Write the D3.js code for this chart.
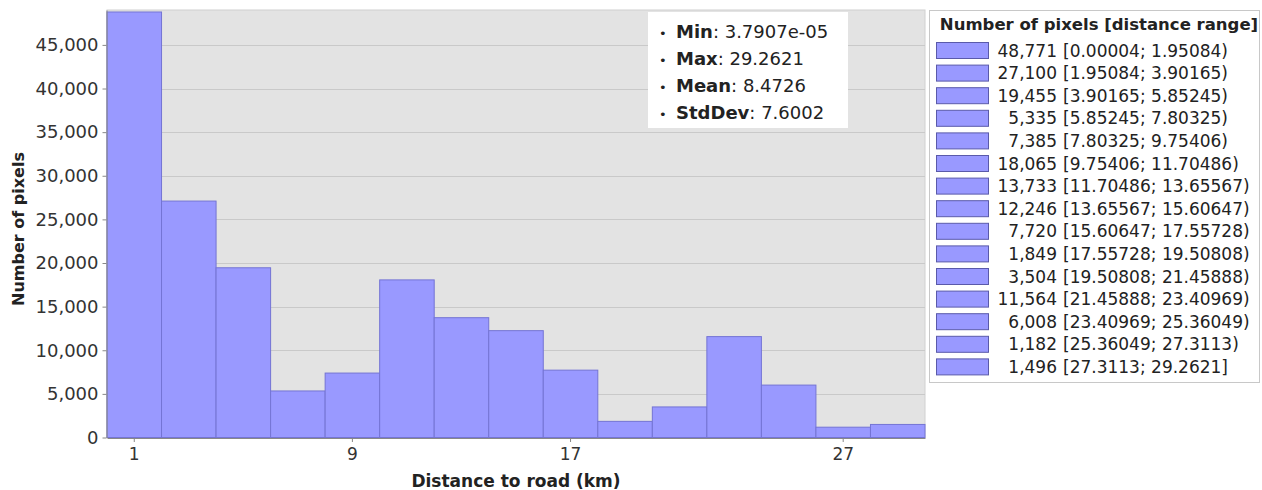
<!DOCTYPE html>
<html>
<head>
<meta charset="utf-8">
<script src="https://cdn.jsdelivr.net/npm/d3@7"></script>
<style>
  body { margin: 0; background: #fff; }
  text { font-family: "DejaVu Sans", Verdana, sans-serif; fill: #222; }
</style>
</head>
<body>
<svg id="chart"></svg>
<script>
// histogram data: bin edges (as printed in the legend) and pixel counts
var binEdges = ["0.00004", "1.95084", "3.90165", "5.85245", "7.80325", "9.75406", "11.70486",
    "13.65567", "15.60647", "17.55728", "19.50808", "21.45888", "23.40969", "25.36049",
    "27.3113", "29.2621"];
var counts = [48771, 27100, 19455, 5335, 7385, 18065, 13733, 12246, 7720, 1849, 3504,
    11564, 6008, 1182, 1496];

// x axis shows a few rounded bin centres
var xTickBins = [0, 4, 8, 13];
var xTickLabels = ["1", "9", "17", "27"];
var yTicks = [0, 5000, 10000, 15000, 20000, 25000, 30000, 35000, 40000, 45000];

// summary box
var statNames = ["Min", "Max", "Mean", "StdDev"];
var statValues = ["3.7907e-05", "29.2621", "8.4726", "7.6002"];

var width = 1262,
    height = 490;

var plot = { left: 107, right: 925, top: 10, bottom: 437.5 };

var svg = d3.select('#chart')
    .attr('width', width)
    .attr('height', height);

var x = d3.scaleBand()
    .domain(d3.range(counts.length))
    .range([plot.left, plot.right])
    .padding(0);

var y = d3.scaleLinear()
    .domain([0, 49000])
    .range([plot.bottom, plot.top]);

// plot background
svg.append('rect')
    .attr('x', plot.left)
    .attr('y', plot.top)
    .attr('width', plot.right - plot.left)
    .attr('height', plot.bottom - plot.top)
    .attr('fill', '#e3e3e3')
    .attr('stroke', '#d0d0d0');

// horizontal grid
svg.append('g')
    .selectAll('line')
    .data(yTicks.slice(1))
    .enter()
    .append('line')
    .attr('x1', plot.left)
    .attr('x2', plot.right)
    .attr('y1', function (d) { return Math.round(y(d)) + 0.5; })
    .attr('y2', function (d) { return Math.round(y(d)) + 0.5; })
    .attr('stroke', '#c9c9c9');

// bars
svg.append('g')
    .selectAll('rect')
    .data(counts)
    .enter()
    .append('rect')
    .attr('x', function (d, i) { return x(i); })
    .attr('y', function (d) { return y(d); })
    .attr('width', x.bandwidth())
    .attr('height', function (d) { return y(0) - y(d); })
    .attr('fill', '#9999ff')
    .attr('stroke', '#7474d4')
    .attr('stroke-width', 1);

// y axis
var yAxis = svg.append('g')
    .attr('transform', 'translate(' + (plot.left - 0.5) + ',0)')
    .call(d3.axisLeft(y)
        .tickValues(yTicks)
        .tickFormat(d3.format(','))
        .tickSize(4)
        .tickSizeOuter(0)
        .tickPadding(4));
yAxis.selectAll('text').style('font-size', '18px').style('fill', '#333');
yAxis.selectAll('line').attr('stroke', '#888');
yAxis.select('.domain').attr('stroke', '#888');

// x axis
var xAxis = svg.append('g')
    .attr('transform', 'translate(0,' + (plot.bottom + 0.5) + ')')
    .call(d3.axisBottom(x)
        .tickValues(xTickBins)
        .tickFormat(function (d, i) { return xTickLabels[i]; })
        .tickSize(4)
        .tickSizeOuter(0)
        .tickPadding(6));
xAxis.selectAll('text').style('font-size', '17px').style('fill', '#333');
xAxis.selectAll('line').attr('stroke', '#888');
xAxis.select('.domain').attr('stroke', '#888');

// axis titles
svg.append('text')
    .attr('transform', 'translate(24,229) rotate(-90)')
    .attr('text-anchor', 'middle')
    .style('font-size', '16px')
    .style('font-weight', 'bold')
    .text('Number of pixels');

svg.append('text')
    .attr('x', 516)
    .attr('y', 487)
    .attr('text-anchor', 'middle')
    .style('font-size', '17px')
    .style('font-weight', 'bold')
    .text('Distance to road (km)');

// stats box
svg.append('rect')
    .attr('x', 648)
    .attr('y', 12)
    .attr('width', 200)
    .attr('height', 116)
    .attr('fill', '#fff');

var stat = svg.append('g')
    .selectAll('text')
    .data(statNames)
    .enter()
    .append('text')
    .attr('x', 659)
    .attr('y', function (d, i) { return 38 + i * 27; })
    .style('font-size', '18px');
stat.append('tspan').style('font-size', '13px').text('\u2022');
stat.append('tspan').attr('x', 676).style('font-weight', 'bold').text(function (d) { return d; });
stat.append('tspan').text(function (d, i) { return ': ' + statValues[i]; });

// legend
svg.append('rect')
    .attr('x', 929.5)
    .attr('y', 10.5)
    .attr('width', 330)
    .attr('height', 372)
    .attr('fill', '#fff')
    .attr('stroke', '#c8c8c8');

svg.append('text')
    .attr('x', 1099)
    .attr('y', 30)
    .attr('text-anchor', 'middle')
    .style('font-size', '16.5px')
    .style('font-weight', 'bold')
    .text('Number of pixels [distance range]');

var row = svg.append('g')
    .selectAll('g')
    .data(counts)
    .enter()
    .append('g')
    .attr('transform', function (d, i) { return 'translate(0,' + (42.5 + i * 22.6) + ')'; });

row.append('rect')
    .attr('x', 936.5)
    .attr('width', 52)
    .attr('height', 16)
    .attr('fill', '#9999ff')
    .attr('stroke', '#5a5aaa');

row.append('text')
    .attr('x', 1057)
    .attr('y', 14)
    .attr('text-anchor', 'end')
    .style('font-size', '17px')
    .text(function (d) { return d3.format(',')(d); });

row.append('text')
    .attr('x', 1063)
    .attr('y', 14)
    .style('font-size', '17px')
    .text(function (d, i) {
        var close = i == counts.length - 1 ? ']' : ')';
        return '[' + binEdges[i] + '; ' + binEdges[i + 1] + close;
    });
</script>
</body>
</html>
